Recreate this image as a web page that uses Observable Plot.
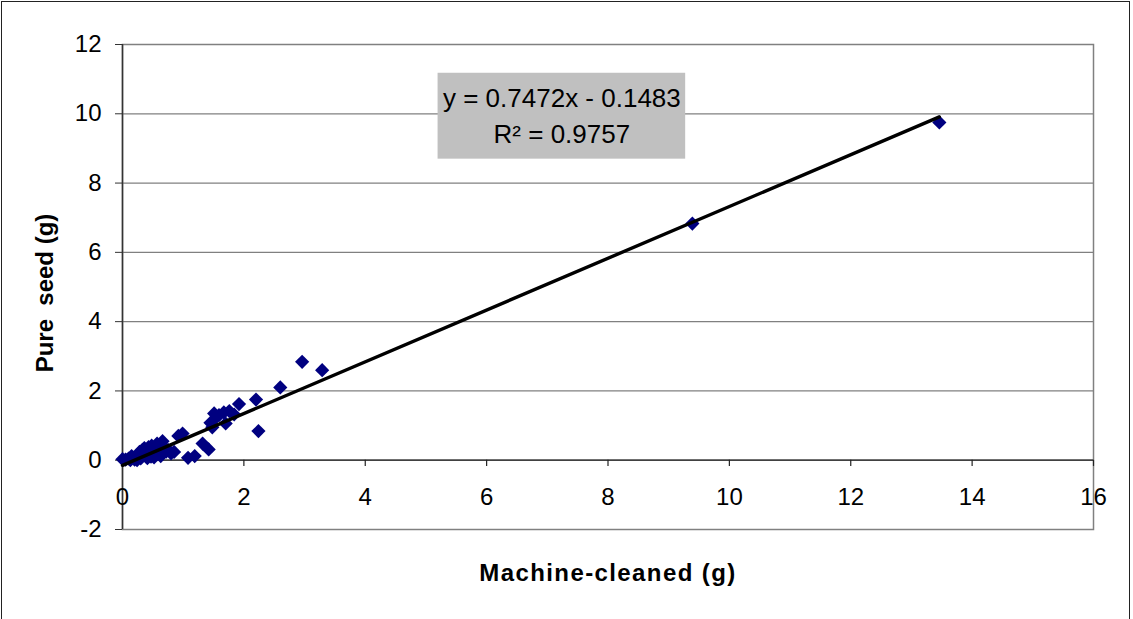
<!DOCTYPE html>
<html>
<head>
<meta charset="utf-8">
<script src="https://cdn.jsdelivr.net/npm/d3@7"></script>
<script src="https://cdn.jsdelivr.net/npm/@observablehq/plot@0.6"></script>
<style>
  html, body { margin: 0; padding: 0; background: #fff; }
  #wrap { position: relative; width: 1133px; height: 619px; overflow: hidden; }
  #border { position: absolute; left: 1px; top: 1px; width: 1129px; height: 640px; border: 1.5px solid #222; box-sizing: border-box; pointer-events: none; }
</style>
</head>
<body>
<div id="wrap"><div id="border"></div></div>
<script>
// Data
const machineCleaned = [0.00,0.05,0.10,0.13,0.15,0.18,0.20,0.24,0.25,0.28,0.30,0.33,0.36,0.38,0.41,0.43,0.47,0.48,0.50,0.52,0.55,0.57,0.60,0.63,0.66,0.68,0.72,0.75,0.80,0.85,0.92,0.99,1.08,1.19,1.32,1.42,1.45,1.48,1.51,1.55,1.59,1.67,1.70,1.76,1.84,1.92,2.20,2.24,2.60,2.96,3.29,9.39,13.46];
const pureSeed       = [0.03,0.02,0.05,0.00,0.12,0.07,0.02,0.00,0.15,0.24,0.05,0.30,0.35,0.20,0.06,0.38,0.10,0.42,0.30,0.08,0.28,0.48,0.40,0.12,0.55,0.35,0.25,0.30,0.20,0.24,0.70,0.77,0.07,0.12,0.48,0.31,1.08,0.95,1.35,1.25,1.30,1.38,1.06,1.42,1.32,1.62,1.75,0.84,2.10,2.84,2.60,6.83,9.75];
const xTicks = [0,2,4,6,8,10,12,14,16];
const yTicks = [-2,0,2,4,6,8,10,12];
const slope = 0.7472, intercept = -0.1483, r2 = 0.9757;
const xTitle = "Machine-cleaned (g)";
const yTitle = "Pure\u00a0 seed (g)";
const eqLines = [`y = ${slope}x - ${Math.abs(intercept)}`, `R² = ${r2}`];

const points = machineCleaned.map((x, i) => ({x, y: pureSeed[i]}));
const xMax = d3.max(machineCleaned);
const trend = [0, xMax].map(x => ({x, y: slope * x + intercept}));

const font = "Liberation Sans, Arial, Helvetica, sans-serif";

const chart = Plot.plot({
  width: 1133,
  height: 619,
  marginLeft: 122,
  marginRight: 40,
  marginTop: 44,
  marginBottom: 90,
  style: {fontFamily: font, fontSize: "24px", color: "#000", background: "transparent", overflow: "visible"},
  x: {domain: [0, 16], axis: null},
  y: {domain: [-2, 12], axis: null},
  marks: [
    Plot.gridY(yTicks, {stroke: "#808080", strokeOpacity: 1, strokeWidth: 1.2}),
    Plot.frame({stroke: "#808080", strokeWidth: 1.5}),
    Plot.ruleY([0], {stroke: "#222", strokeWidth: 1.2}),
    Plot.ruleX([0], {stroke: "#333", strokeWidth: 1.5}),
    Plot.axisY(yTicks, {tickSize: 7, tickPadding: 14, stroke: "#333", fontSize: 24, fill: "#000", label: null, tickFormat: d => String(d)}),
    Plot.ruleX(xTicks, {x: d => d, y1: 0, y2: -0.18, stroke: "#222", strokeWidth: 1.2}),
    Plot.text(xTicks, {x: d => d, y: 0, dy: 37, text: d => String(d), fontSize: 24, fill: "#000"}),
    Plot.rect([0], {x1: 5.2, x2: 9.28, y1: 8.69, y2: 11.17, fill: "#c0c0c0"}),
    Plot.text(eqLines, {x: 7.24, y: (d, i) => i === 0 ? 10.45 : 9.4, text: d => d, fontSize: 26, fill: "#000"}),
    Plot.dot(points, {x: "x", y: "y", symbol: "diamond2", r: 6.4, fill: "#000080", stroke: "none"}),
    Plot.line(trend, {x: "x", y: "y", stroke: "#000", strokeWidth: 3.4}),
    Plot.text([xTitle], {frameAnchor: "bottom", dy: 44, lineAnchor: "middle", textAnchor: "middle", text: d => d, fontSize: 24, fontWeight: "bold", fill: "#000"}),
    Plot.text([yTitle], {frameAnchor: "left", dx: -77, dy: 6, rotate: -90, lineAnchor: "middle", textAnchor: "middle", text: d => d, fontSize: 24, fontWeight: "bold", fill: "#000"})
  ]
});
d3.select(chart).selectAll("text").filter(function() { return this.textContent === xTitle; }).attr("letter-spacing", "1.4px");
document.getElementById("wrap").prepend(chart);
</script>
</body>
</html>
